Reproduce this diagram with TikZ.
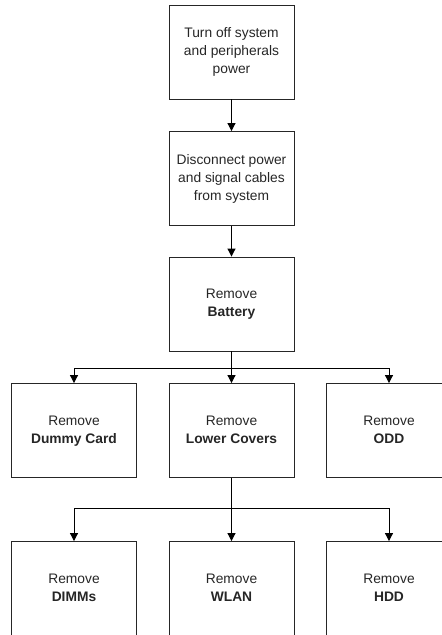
\documentclass[tikz,border=0pt]{standalone}
\usepackage{fontspec}
\setmainfont{Liberation Sans}
\usetikzlibrary{arrows.meta}
\begin{document}
\begin{tikzpicture}[x=1pt,y=-1pt,
  stepbox/.style={draw=black!85,line width=0.9pt,minimum width=125pt,minimum height=94pt,
    inner sep=0pt,align=center,font=\fontsize{13.8pt}{18pt}\selectfont,text=black!85},
  conn/.style={line width=1pt,draw=black},
  arr/.style={conn,-{Triangle[width=8pt,length=8pt]}}]
\useasboundingbox (0,0) rectangle (442,635);
\clip (0,0) rectangle (442,635);
\node[stepbox] (off) at (231.5,52) {\strut Turn off system\\and peripherals\\power\strut};
\node[stepbox] (disc) at (231.5,178.5) {\strut Disconnect power\\and signal cables\\from system\strut};
\node[stepbox] (bat) at (231.5,304) {\strut Remove\\\textbf{Battery}\strut};
\node[stepbox] (dummy) at (74,430.5) {\strut Remove\\\textbf{Dummy Card}\strut};
\node[stepbox] (lower) at (231.5,430.5) {\strut Remove\\\textbf{Lower Covers}\strut};
\node[stepbox] (odd) at (389,430.5) {\strut Remove\\\textbf{ODD}\strut};
\node[stepbox] (dimm) at (74,588.5) {\strut Remove\\\textbf{DIMMs}\strut};
\node[stepbox] (wlan) at (231.5,588.5) {\strut Remove\\\textbf{WLAN}\strut};
\node[stepbox] (hdd) at (389,588.5) {\strut Remove\\\textbf{HDD}\strut};
\draw[arr] (off.south) -- (disc.north);
\draw[arr] (disc.south) -- (bat.north);
\path (bat.south) ++(0,17) coordinate (j1);
\draw[conn,line width=1.6pt] (bat.south) -- (j1);
\draw[arr] (j1) -- (lower.north);
\draw[arr] (j1) -| (dummy.north);
\draw[arr] (j1) -| (odd.north);
\path (lower.south) ++(0,30.5) coordinate (j2);
\draw[conn,line width=1.6pt] (lower.south) -- (j2);
\draw[arr] (j2) -- (wlan.north);
\draw[arr] (j2) -| (dimm.north);
\draw[arr] (j2) -| (hdd.north);
\end{tikzpicture}
\end{document}
